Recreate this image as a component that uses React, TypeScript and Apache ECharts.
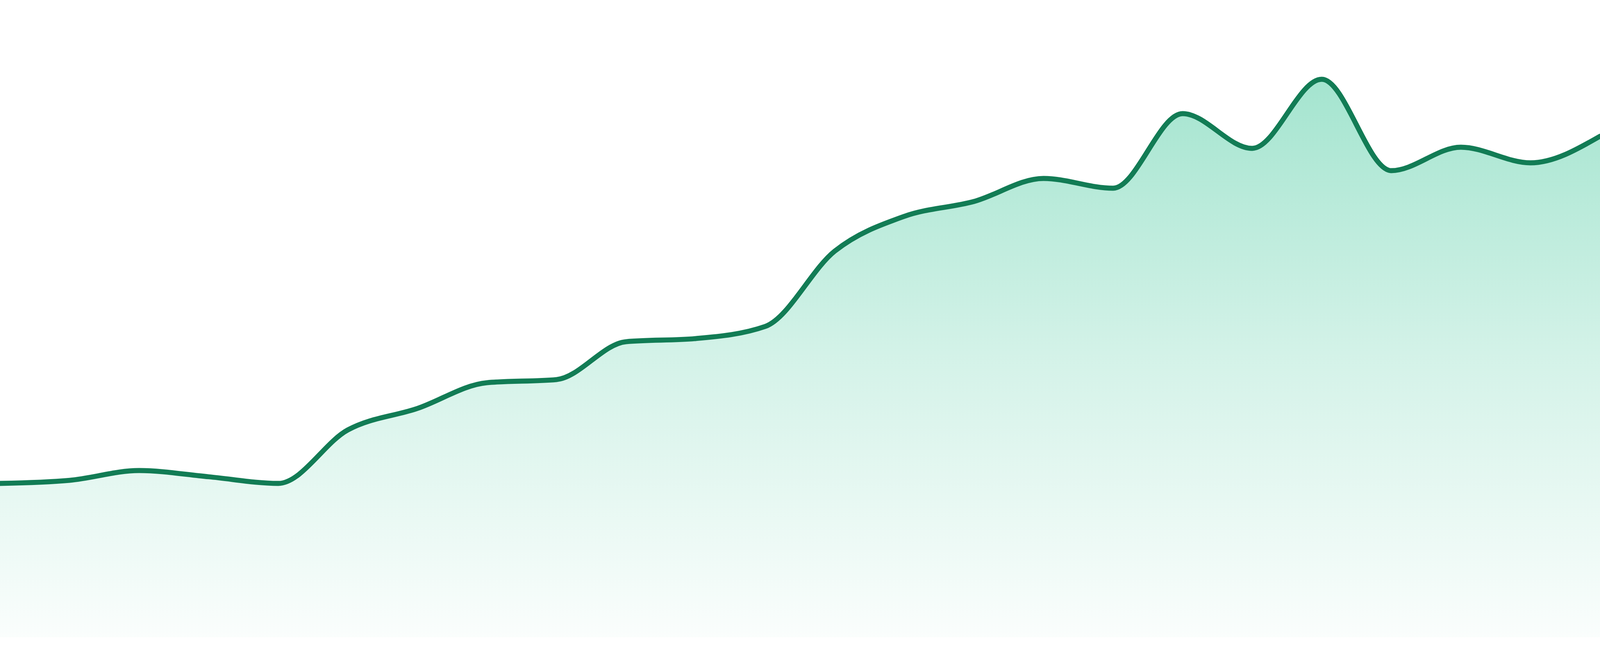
import React, { useEffect, useRef } from "react";
import * as echarts from "echarts";

// ---- data ----
const categories: string[] = [
  "1", "2", "3", "4", "5", "6", "7", "8", "9", "10", "11", "12",
  "13", "14", "15", "16", "17", "18", "19", "20", "21", "22", "23", "24",
];
const values: number[] = [
  394, 402, 427, 411, 394, 531, 586, 652, 660, 757, 765, 796,
  989, 1078, 1116, 1175, 1150, 1341, 1252, 1429, 1195, 1255, 1215, 1283,
];
const yMin = 0;
const yMax = 1632;

const LINE_COLOR = "#127c55";
const FILL_RGB = "16,185,129";

function sign(x: number) {
  return x < 0 ? -1 : 1;
}
function slope3(x0: number, y0: number, x1: number, y1: number, x2: number, y2: number) {
  const h0 = x1 - x0;
  const h1 = x2 - x1;
  const s0 = h0 ? (y1 - y0) / h0 : 0;
  const s1 = h1 ? (y2 - y1) / h1 : 0;
  const p = (s0 * h1 + s1 * h0) / (h0 + h1);
  return (sign(s0) + sign(s1)) * Math.min(Math.abs(s0), Math.abs(s1), 0.5 * Math.abs(p)) || 0;
}
function slope2(x0: number, y0: number, x1: number, y1: number, t: number) {
  const h = x1 - x0;
  return h ? ((3 * (y1 - y0)) / h - t) / 2 : t;
}

function monotonePath(pts: number[][]) {
  const n = pts.length;
  const t: number[] = new Array(n).fill(0);
  for (let i = 1; i < n - 1; i++) {
    t[i] = slope3(pts[i - 1][0], pts[i - 1][1], pts[i][0], pts[i][1], pts[i + 1][0], pts[i + 1][1]);
  }
  t[0] = slope2(pts[0][0], pts[0][1], pts[1][0], pts[1][1], t[1]);
  t[n - 1] = slope2(pts[n - 2][0], pts[n - 2][1], pts[n - 1][0], pts[n - 1][1], t[n - 2]);
  let d = `M${pts[0][0]},${pts[0][1]}`;
  for (let i = 0; i < n - 1; i++) {
    const [x0, y0] = pts[i];
    const [x1, y1] = pts[i + 1];
    const dx = (x1 - x0) / 3;
    d += ` C${x0 + dx},${y0 + dx * t[i]} ${x1 - dx},${y1 - dx * t[i + 1]} ${x1},${y1}`;
  }
  return d;
}

export default function App() {
  const ref = useRef<HTMLDivElement | null>(null);

  useEffect(() => {
    document.body.style.margin = "0";
    document.body.style.overflow = "hidden";
    const el = ref.current;
    if (!el) return;
    const w = el.clientWidth || 4800;
    const k = w / 4800;
    const chart = echarts.init(el, undefined, { renderer: "svg" });
    const option: any = {
      animation: false,
      backgroundColor: "#ffffff",
      grid: { left: 0, right: 0, top: 0, bottom: "2.857%", containLabel: false },
      xAxis: {
        type: "category",
        data: categories,
        boundaryGap: false,
        show: false,
      },
      yAxis: {
        type: "value",
        min: yMin,
        max: yMax,
        show: false,
        splitLine: { show: false },
      },
      series: [
        {
          type: "custom",
          clip: false,
          data: values.map((v, i) => [i, v]),
          encode: { x: 0, y: 1 },
          renderItem: (params: any, api: any) => {
            if (params.dataIndex !== 0) return null;
            const pts = values.map((v, i) => api.coord([i, v]));
            const lineD = monotonePath(pts);
            const base = api.coord([0, yMin])[1];
            const last = pts[pts.length - 1];
            const areaD = `${lineD} L${last[0]},${base} L${pts[0][0]},${base} Z`;
            return {
              type: "group",
              children: [
                {
                  type: "path",
                  shape: { pathData: areaD },
                  style: {
                    fill: new echarts.graphic.LinearGradient(0, 0, 0, 1, [
                      { offset: 0, color: `rgba(${FILL_RGB},0.38)` },
                      { offset: 0.5, color: `rgba(${FILL_RGB},0.18)` },
                      { offset: 1, color: `rgba(${FILL_RGB},0.02)` },
                    ]),
                    stroke: "none",
                  },
                },
                {
                  type: "path",
                  shape: { pathData: lineD },
                  style: {
                    fill: "none",
                    stroke: LINE_COLOR,
                    lineWidth: 15 * k,
                    lineJoin: "round",
                    lineCap: "round",
                  },
                },
              ],
            };
          },
        },
      ],
    };
    chart.setOption(option);
    return () => chart.dispose();
  }, []);

  return (
    <div
      ref={ref}
      style={{ position: "fixed", left: 0, top: 0, width: "100vw", height: "100vh" }}
    />
  );
}
